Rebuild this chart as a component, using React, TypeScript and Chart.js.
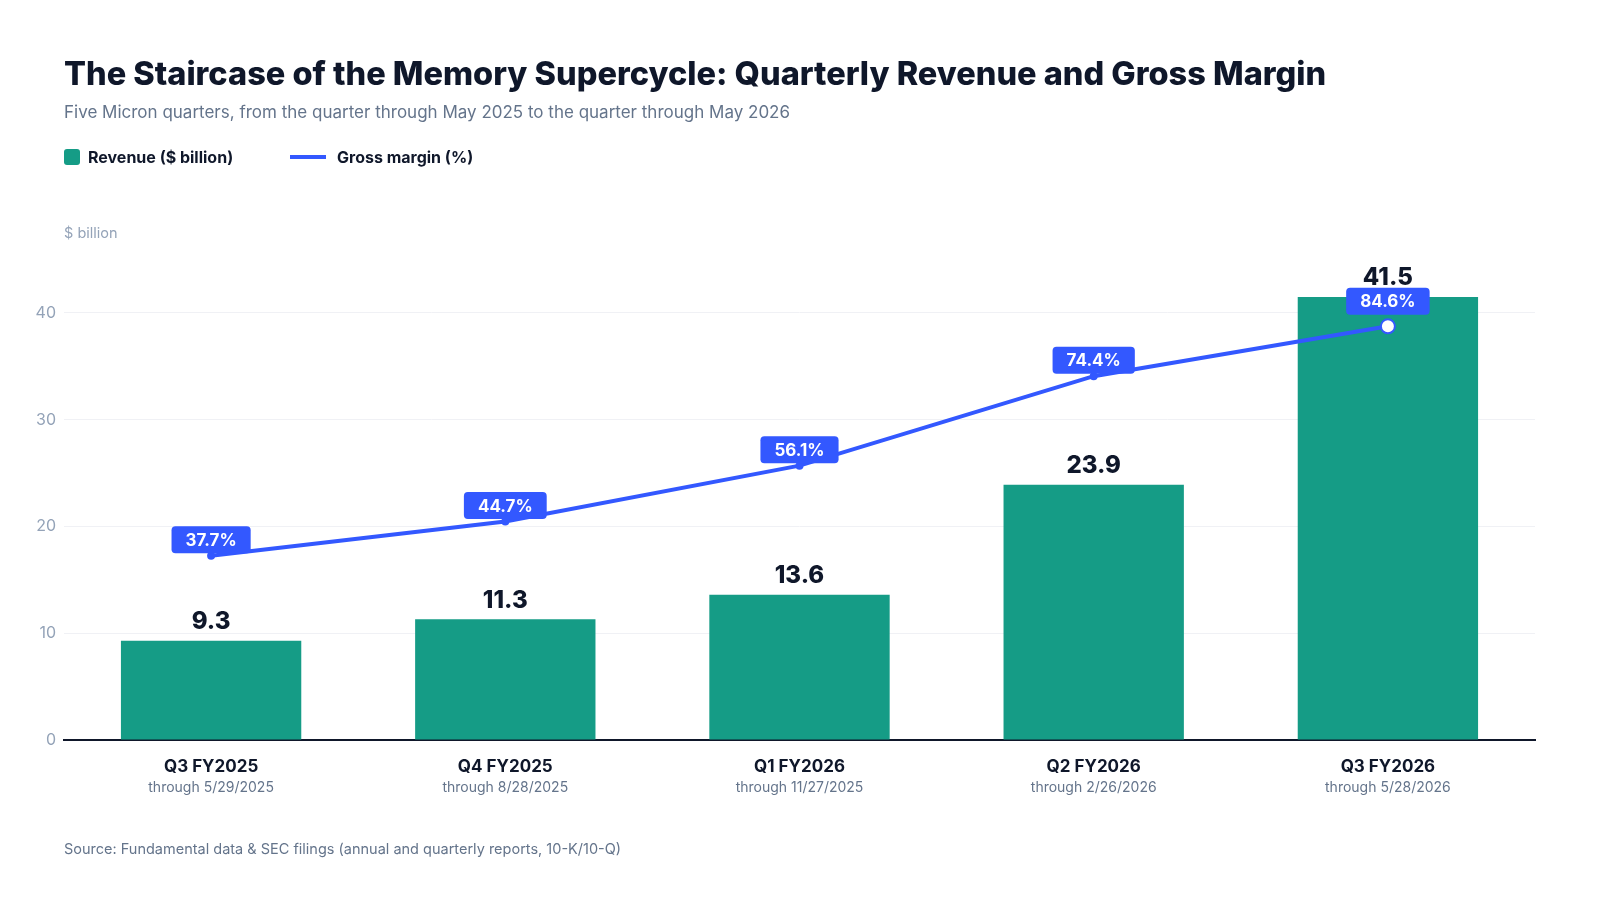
import { useEffect, useRef } from 'react';
import { Chart, registerables } from 'chart.js';

Chart.register(...registerables);

const quarters = ['Q3 FY2025', 'Q4 FY2025', 'Q1 FY2026', 'Q2 FY2026', 'Q3 FY2026'];
const periodEnds = ['through 5/29/2025', 'through 8/28/2025', 'through 11/27/2025', 'through 2/26/2026', 'through 5/28/2026'];
const revenue = [9.3, 11.3, 13.6, 23.9, 41.5];
const grossMargin = [37.7, 44.7, 56.1, 74.4, 84.6];
const revenueTicks = [0, 10, 20, 30, 40];

const FONT = 'Inter, "Noto Sans", sans-serif';
const TEAL = '#159c86';
const BLUE = '#3358ff';
const INK = '#0f172a';
const SLATE = '#64748b';
const MUTED = '#94a3b8';

const frame = {
  id: 'frame',
  afterDraw(chart: Chart) {
    const { ctx } = chart;
    ctx.save();
    ctx.textBaseline = 'middle';
    ctx.textAlign = 'left';

    ctx.fillStyle = INK;
    ctx.font = `800 32.5px ${FONT}`;
    ctx.fillText('The Staircase of the Memory Supercycle: Quarterly Revenue and Gross Margin', 64, 75);

    ctx.fillStyle = SLATE;
    ctx.font = `400 17px ${FONT}`;
    ctx.fillText('Five Micron quarters, from the quarter through May 2025 to the quarter through May 2026', 64, 113);

    // legend
    ctx.fillStyle = TEAL;
    ctx.beginPath();
    ctx.roundRect(64, 149, 16, 16, 3);
    ctx.fill();
    ctx.fillStyle = INK;
    ctx.font = `700 16px ${FONT}`;
    ctx.fillText('Revenue ($ billion)', 88, 158);
    ctx.strokeStyle = BLUE;
    ctx.lineWidth = 4;
    ctx.beginPath();
    ctx.moveTo(290, 157);
    ctx.lineTo(326, 157);
    ctx.stroke();
    ctx.fillText('Gross margin (%)', 337, 158);

    ctx.fillStyle = MUTED;
    ctx.font = `400 14.5px ${FONT}`;
    ctx.fillText('$ billion', 64, 234);

    // second line of x labels
    const x = chart.scales.x;
    ctx.textAlign = 'center';
    ctx.fillStyle = SLATE;
    ctx.font = `400 14px ${FONT}`;
    periodEnds.forEach((p, i) => {
      ctx.fillText(p, x.getPixelForValue(i), 788);
    });

    ctx.textAlign = 'left';
    ctx.font = `400 14.5px ${FONT}`;
    ctx.fillText('Source: Fundamental data & SEC filings (annual and quarterly reports, 10-K/10-Q)', 64, 850);
    ctx.restore();
  },
  afterDatasetsDraw(chart: Chart) {
    const { ctx } = chart;
    ctx.save();
    ctx.textAlign = 'center';
    ctx.textBaseline = 'middle';

    const bars = chart.getDatasetMeta(0).data;
    ctx.fillStyle = INK;
    ctx.font = `800 24px ${FONT}`;
    bars.forEach((b: any, i) => {
      ctx.fillText(String(revenue[i]), b.x, b.y - 19);
    });

    const pts = chart.getDatasetMeta(1).data;
    ctx.font = `700 17px ${FONT}`;
    pts.forEach((p: any, i) => {
      const text = `${grossMargin[i]}%`;
      const w = ctx.measureText(text).width + 28;
      const h = 27;
      const cy = p.y - (i === pts.length - 1 ? 25 : 16);
      ctx.fillStyle = BLUE;
      ctx.beginPath();
      ctx.roundRect(p.x - w / 2, cy - h / 2, w, h, 4);
      ctx.fill();
      ctx.fillStyle = '#ffffff';
      ctx.fillText(text, p.x, cy + 1);
    });
    ctx.restore();
  },
};

export default function App() {
  const chartRef = useRef<HTMLCanvasElement>(null);
  const chartInstance = useRef<Chart | null>(null);

  useEffect(() => {
    if (!chartRef.current) return;
    if (chartInstance.current) chartInstance.current.destroy();
    const ctx = chartRef.current.getContext('2d');
    if (!ctx) return;

    const last = grossMargin.length - 1;

    chartInstance.current = new Chart(ctx, {
      type: 'bar',
      data: {
        labels: quarters,
        datasets: [
          {
            type: 'bar',
            label: 'Revenue ($ billion)',
            data: revenue,
            backgroundColor: TEAL,
            categoryPercentage: 1,
            barPercentage: 0.613,
            yAxisID: 'y',
            order: 2,
          },
          {
            type: 'line',
            label: 'Gross margin (%)',
            data: grossMargin,
            borderColor: BLUE,
            borderWidth: 4,
            backgroundColor: BLUE,
            pointRadius: grossMargin.map((_, i) => (i === last ? 7 : 4)),
            pointBackgroundColor: grossMargin.map((_, i) => (i === last ? '#ffffff' : BLUE)),
            pointBorderColor: BLUE,
            pointBorderWidth: grossMargin.map((_, i) => (i === last ? 2 : 0)),
            tension: 0,
            yAxisID: 'y1',
            order: 1,
          } as any,
        ],
      },
      options: {
        animation: false,
        responsive: true,
        maintainAspectRatio: false,
        layout: { padding: { top: 251, right: 65, bottom: 0, left: 0 } },
        plugins: {
          legend: { display: false },
          title: { display: false },
          tooltip: { enabled: false },
        },
        scales: {
          x: {
            grid: { display: false, drawTicks: false },
            border: { display: true, color: INK, width: 2 },
            ticks: {
              color: INK,
              font: { family: FONT, size: 17, weight: 'bold' },
              padding: 17,
            },
            afterFit: (scale: any) => {
              scale.height = 160;
            },
          },
          y: {
            min: 0,
            max: 45.8,
            grid: { color: '#f0f1f5', lineWidth: 1, drawTicks: false },
            border: { display: false },
            ticks: {
              color: MUTED,
              font: { family: FONT, size: 16 },
              padding: 8,
              includeBounds: false,
            },
            afterBuildTicks: (scale: any) => {
              scale.ticks = revenueTicks.map((v) => ({ value: v }));
            },
            afterFit: (scale: any) => {
              scale.width = 64;
            },
          },
          y1: {
            display: false,
            min: 0,
            max: 100,
          },
        },
      },
      plugins: [frame],
    });

    return () => {
      if (chartInstance.current) {
        chartInstance.current.destroy();
        chartInstance.current = null;
      }
    };
  }, []);

  return (
    <div style={{ position: 'fixed', left: 0, top: 0, width: 1600, height: 900, background: '#ffffff' }}>
      <canvas ref={chartRef} />
    </div>
  );
}
